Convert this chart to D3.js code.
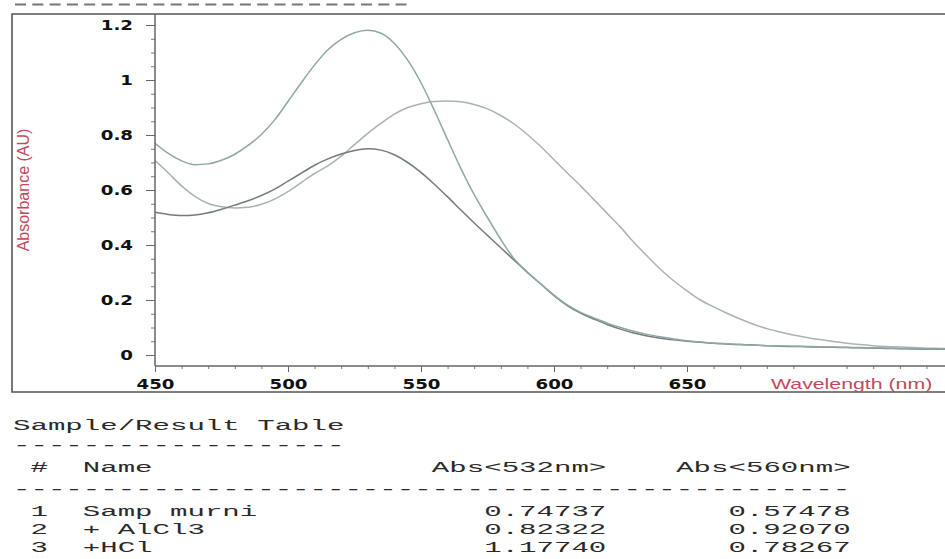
<!DOCTYPE html>
<html><head><meta charset="utf-8">
<script src="https://cdn.jsdelivr.net/npm/d3@7"></script>
<style>html,body{margin:0;padding:0;background:#fff;overflow:hidden}</style>
</head><body>
<svg id="c" width="945" height="559"></svg>
<script>
const wavelengths = [450,455,460,465,470,475,480,485,490,495,500,505,510,515,520,525,530,535,540,545,550,555,560,565,570,575,580,585,590,595,600,605,610,615,620,625,630,635,640,645,650,655,660,665,670,675,680,685,690,695,700,705,710,715,720,725,730,735,740,745,750];
const sampMurni = [0.519,0.511,0.507,0.509,0.517,0.530,0.545,0.561,0.580,0.603,0.632,0.661,0.690,0.713,0.731,0.744,0.750,0.745,0.728,0.700,0.664,0.621,0.575,0.527,0.480,0.435,0.390,0.345,0.300,0.258,0.216,0.180,0.152,0.131,0.111,0.094,0.080,0.069,0.061,0.055,0.050,0.046,0.043,0.040,0.038,0.036,0.034,0.032,0.031,0.030,0.029,0.028,0.027,0.026,0.025,0.024,0.023,0.022,0.021,0.021,0.020];
const plusAlCl3 = [0.707,0.662,0.615,0.577,0.551,0.539,0.535,0.537,0.548,0.567,0.594,0.627,0.660,0.688,0.723,0.765,0.806,0.843,0.876,0.900,0.914,0.922,0.924,0.921,0.911,0.895,0.871,0.840,0.802,0.758,0.710,0.662,0.615,0.565,0.515,0.465,0.410,0.360,0.312,0.270,0.233,0.200,0.175,0.152,0.131,0.112,0.096,0.084,0.073,0.064,0.056,0.049,0.043,0.038,0.034,0.031,0.029,0.027,0.025,0.024,0.023];
const plusHCl = [0.770,0.733,0.706,0.692,0.695,0.708,0.730,0.762,0.802,0.855,0.922,0.990,1.055,1.110,1.148,1.172,1.181,1.170,1.133,1.072,0.990,0.890,0.783,0.678,0.583,0.500,0.420,0.350,0.302,0.259,0.218,0.182,0.155,0.135,0.116,0.100,0.086,0.075,0.066,0.058,0.052,0.047,0.043,0.041,0.038,0.036,0.034,0.033,0.032,0.031,0.030,0.029,0.028,0.027,0.026,0.025,0.024,0.023,0.022,0.022,0.021];
const seriesNames = ["+ AlCl3","Samp murni","+HCl"];
const seriesColors = ["#a9b3b3","#737b7b","#8fa8a5"];
const yTicks = [0,0.2,0.4,0.6,0.8,1,1.2];
const yTickLabels = ["0","0.2","0.4","0.6","0.8","1","1.2"];
const xTicks = [450,500,550,600,650];
const tableTitle = "Sample/Result Table";
const tableHeaders = ["#","Name","Abs<532nm>","Abs<560nm>"];
const rowNums = ["1","2","3"];
const rowNames = ["Samp murni","+ AlCl3","+HCl"];
const abs532 = ["0.74737","0.82322","1.17740"];
const abs560 = ["0.57478","0.92070","0.78267"];

const svg = d3.select("#c");
const X0 = 155, Y0 = 366, TOP = 14;
const x = d3.scaleLinear().domain([450, 750]).range([X0, X0 + 300*2.66]);
const y = d3.scaleLinear().domain([-0.04, 1.24]).range([Y0, TOP]);

// top dashed remnant
svg.append("line").attr("x1",15).attr("x2",408).attr("y1",4.5).attr("y2",4.5)
  .attr("stroke","#777").attr("stroke-width",2).attr("stroke-dasharray","11 6.3");
// frame
svg.append("path").attr("d",`M945,${TOP}H12V392H945`).attr("fill","none").attr("stroke","#555").attr("stroke-width",1.6);

svg.append("defs").append("clipPath").attr("id","pc").append("rect")
  .attr("x",X0).attr("y",TOP).attr("width",945-X0).attr("height",Y0-TOP);

const data = [plusAlCl3, sampMurni, plusHCl];
const line = d3.line().x((d,i)=>x(wavelengths[i])).y(d=>y(d)).curve(d3.curveMonotoneX);
svg.append("g").attr("clip-path","url(#pc)").selectAll("path").data(data).join("path")
  .attr("d", line).attr("fill","none").attr("stroke",(d,i)=>seriesColors[i]).attr("stroke-width",1.5);

// y axis
const yMinor = d3.range(-0.0, 1.21, 0.05).filter(v=>Math.abs(v*5-Math.round(v*5))>1e-6);
svg.append("g").attr("transform",`translate(${X0},0)`)
  .call(d3.axisLeft(y).tickValues(yMinor).tickSize(4).tickFormat(""))
  .call(g=>{g.select(".domain").remove();g.selectAll("line").attr("stroke","#777");});
const ya = svg.append("g").attr("transform",`translate(${X0},0)`)
  .call(d3.axisLeft(y).tickValues(yTicks).tickSize(9).tickPadding(0).tickFormat((d,i)=>yTickLabels[i]));
ya.select(".domain").attr("d",`M0,${TOP}V${Y0}`).attr("stroke","#666").attr("stroke-width",1.5);
ya.selectAll("line").attr("stroke","#666");
ya.selectAll("text").attr("x",-22/1.3).attr("transform","scale(1.3,1)")
  .attr("font-family","DejaVu Sans").attr("font-weight","bold").attr("font-size",14).attr("fill","#111");

// x axis
const xMinor = d3.range(460, 750, 10).filter(v=>v%50!==0);
svg.append("g").attr("transform",`translate(0,${Y0})`)
  .call(d3.axisBottom(x).tickValues(xMinor).tickSize(3).tickFormat(""))
  .call(g=>{g.select(".domain").remove();g.selectAll("line").attr("stroke","#777");});
const xa = svg.append("g").attr("transform",`translate(0,${Y0})`)
  .call(d3.axisBottom(x).tickValues(xTicks).tickSize(6).tickFormat(d3.format("d")));
xa.select(".domain").attr("d",`M${X0},0H945`).attr("stroke","#666").attr("stroke-width",1.5);
xa.selectAll("line").attr("stroke","#666");
xa.selectAll("text").attr("y",13).attr("dy","0.71em").attr("transform","scale(1.3,1)")
  .attr("font-family","DejaVu Sans").attr("font-weight","bold").attr("font-size",14).attr("fill","#111");

// axis titles
svg.append("text").attr("transform","translate(29,190) rotate(-90)").attr("text-anchor","middle")
  .attr("font-family","Liberation Sans, Arial, sans-serif").attr("font-size",16).attr("fill","#c4485c")
  .text("Absorbance (AU)");
svg.append("text").attr("transform","translate(771,389) scale(1.42,1)")
  .attr("font-family","Liberation Sans, Arial, sans-serif").attr("font-size",15).attr("fill","#c4485c")
  .text("Wavelength (nm)");

// table
const fs = 15, cw = fs*0.6; // monospace char width
const tg = svg.append("g").attr("transform",`translate(13,0) scale(${17.45/cw},1)`)
  .attr("font-family","Liberation Mono, monospace").attr("font-size",fs).attr("fill","#2a2a2a");
tg.append("text").attr("x",0).attr("y",430).text(tableTitle);
tg.append("text").attr("x",0).attr("y",450).text("-".repeat(tableTitle.length));
tg.append("text").attr("x",cw*1).attr("y",472).text(tableHeaders[0]);
tg.append("text").attr("x",cw*4).attr("y",472).text(tableHeaders[1]);
tg.append("text").attr("x",cw*34).attr("y",472).attr("text-anchor","end").text(tableHeaders[2]);
tg.append("text").attr("x",cw*48).attr("y",472).attr("text-anchor","end").text(tableHeaders[3]);
tg.append("text").attr("x",0).attr("y",494).text("-".repeat(48));
const rowY = [516,534,552];
rowNums.forEach((n,i)=>{
  tg.append("text").attr("x",cw*1).attr("y",rowY[i]).text(n);
  tg.append("text").attr("x",cw*4).attr("y",rowY[i]).text(rowNames[i]);
  tg.append("text").attr("x",cw*34).attr("y",rowY[i]).attr("text-anchor","end").text(abs532[i]);
  tg.append("text").attr("x",cw*48).attr("y",rowY[i]).attr("text-anchor","end").text(abs560[i]);
});
</script>
</body></html>
